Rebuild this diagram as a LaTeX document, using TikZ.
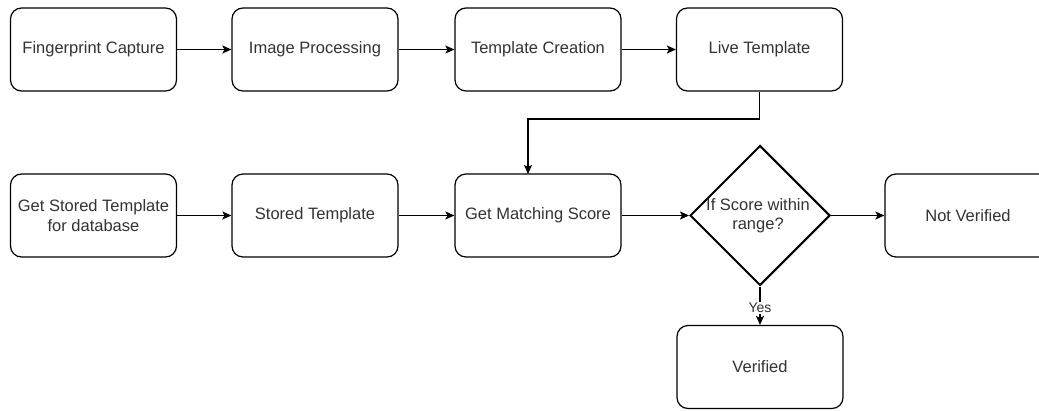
\documentclass[tikz,border=0pt]{standalone}
\usepackage{fontspec}
\setmainfont{Liberation Sans}
\usetikzlibrary{shapes.geometric,arrows.meta}
\definecolor{txt}{HTML}{333333}
\begin{document}
\begin{tikzpicture}[x=1pt,y=-1pt,
  box/.style={draw=black, line width=1.2pt, rounded corners=11pt, minimum width=166pt, minimum height=83pt, inner sep=0pt, align=center, text=txt, font=\fontsize{16.5}{19.5}\selectfont},
  dec/.style={draw=black, line width=2pt, diamond, minimum width=140pt, minimum height=140pt, inner sep=0pt},
  lbl/.style={text=txt, align=center, font=\fontsize{16.5}{19.5}\selectfont},
  arr/.style={line width=1.2pt, -{Stealth[length=9pt,width=8pt,inset=2pt]}},
]
\path[use as bounding box, fill=white] (0,0) rectangle (1039,410);
% top row
\node[box] (fc) at (93.5,49.5) {Fingerprint Capture};
\node[box] (ip) at (315,49.5) {Image Processing};
\node[box] (tc) at (538,49.5) {Template Creation};
\node[box] (lt) at (759.5,49.5) {Live Template};
% bottom row
\node[box] (gs) at (93.5,215.5) {Get Stored Template\\for database};
\node[box] (st) at (315,215.5) {Stored Template};
\node[box] (ms) at (538,215.5) {Get Matching Score};
\node[dec] (d) at (760,215.5) {};
\node[lbl] (dt) at (758,215.5) {If Score within\\range?};
\node[box] (nv) at (968,215.5) {Not Verified};
\node[box] (ve) at (760,367) {Verified};
% connectors
\draw[arr] (fc) -- (ip);
\draw[arr] (ip) -- (tc);
\draw[arr] (tc) -- (lt);
\coordinate (bend1) at (759.5,119);
\coordinate (bend2) at (528,119);
\coordinate (mtop) at (528,174);
\draw[arr] (lt.south) -- (bend1) -- (bend2) -- (mtop);
\draw[arr] (gs) -- (st);
\draw[arr] (st) -- (ms);
\draw[arr] (ms) -- (d.west);
\draw[arr] (d.east) -- (nv);
\draw[arr] (d.south) -- node[pos=0.55, fill=white, text=txt, inner sep=1pt, font=\fontsize{14}{16}\selectfont] (yes) {Yes} (ve.north);
\end{tikzpicture}
\end{document}
